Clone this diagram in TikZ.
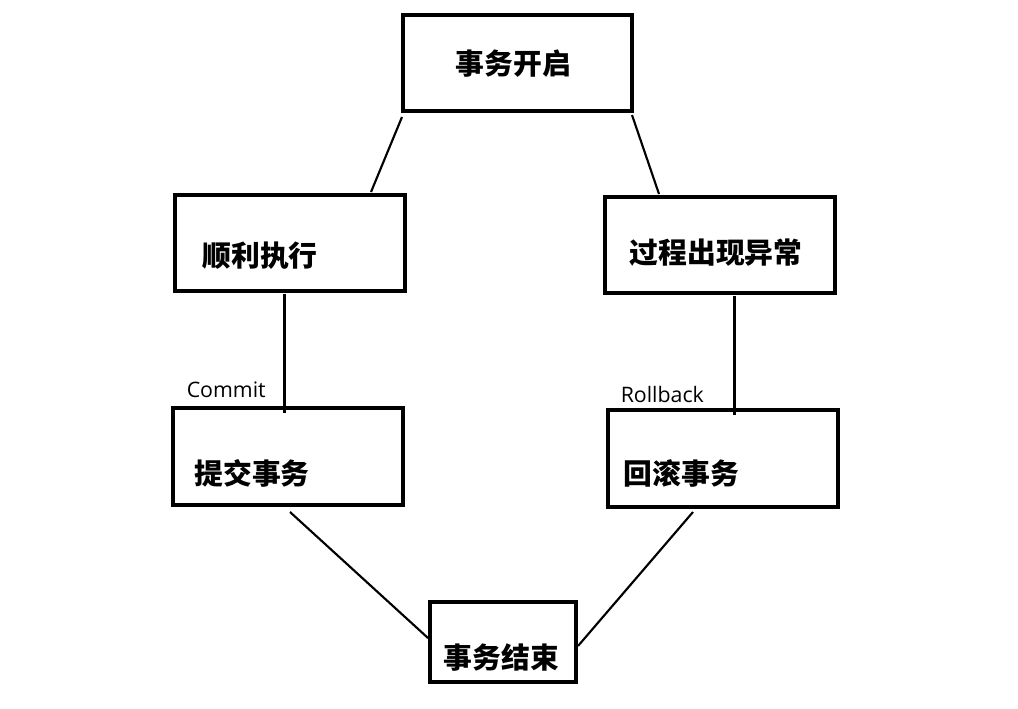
\documentclass[tikz,border=0pt]{standalone}
\usepackage{fontspec}
\newfontfamily\cjk{Noto Sans CJK SC}
\newfontfamily\lat{Open Sans}
\begin{document}
\begin{tikzpicture}[x=0.75pt,y=-0.75pt,
  box/.style={draw,line width=2.4pt,rectangle,inner sep=0pt},
  cjktext/.style={font=\cjk\bfseries\fontsize{21.6pt}{25pt}\selectfont,inner sep=0pt},
  edgelbl/.style={font=\lat\fontsize{16pt}{18pt}\selectfont,inner sep=0pt,anchor=base west},
  link/.style={line width=1.6pt}]
\useasboundingbox[fill=white] (0,0) rectangle (1018,708);
% boxes
\node[box,minimum width={229*0.75pt},minimum height={96*0.75pt}] (b1) at (517.5,63) {};
\node[box,minimum width={230*0.75pt},minimum height={96*0.75pt}] (b2) at (290,243) {};
\node[box,minimum width={230*0.75pt},minimum height={96*0.75pt}] (b3) at (720,245) {};
\node[box,minimum width={230*0.75pt},minimum height={97*0.75pt}] (b4) at (288,456.5) {};
\node[box,minimum width={230*0.75pt},minimum height={97*0.75pt}] (b5) at (723,458.5) {};
\node[box,minimum width={146*0.75pt},minimum height={80*0.75pt}] (b6) at (503,642) {};
% texts
\node[cjktext] (t1) at (513.5,64) {事务开启};
\node[cjktext] (t2) at (260,256) {顺利执行};
\node[cjktext] (t3) at (716,253) {过程出现异常};
\node[cjktext] (t4) at (252,473) {提交事务};
\node[cjktext] (t5) at (681.5,473.5) {回滚事务};
\node[cjktext] (t6) at (501.5,658) {事务结束};
% connector end points
\coordinate (c1a) at (402,117);
\coordinate (c1b) at (371,192);
\coordinate (c2a) at (632,115);
\coordinate (c2b) at (659,194);
\coordinate (c3a) at (284.5,294);
\coordinate (c3b) at (284.5,413);
\coordinate (c4a) at (734.5,296);
\coordinate (c4b) at (734.5,415);
\coordinate (c5a) at (290,512);
\coordinate (c5b) at (428,638);
\coordinate (c6a) at (693,512);
\coordinate (c6b) at (578,646);
\draw[link] (c1a) -- (c1b);
\draw[link] (c2a) -- (c2b);
\draw[link] (c3a) -- (c3b);
\draw[link] (c4a) -- (c4b);
\draw[link] (c5a) -- (c5b);
\draw[link] (c6a) -- (c6b);
% labels
\node[edgelbl] (l1) at (186.5,397) {Commit};
\node[edgelbl] (l2) at (620.5,402.5) {Rollback};
\end{tikzpicture}
\end{document}
